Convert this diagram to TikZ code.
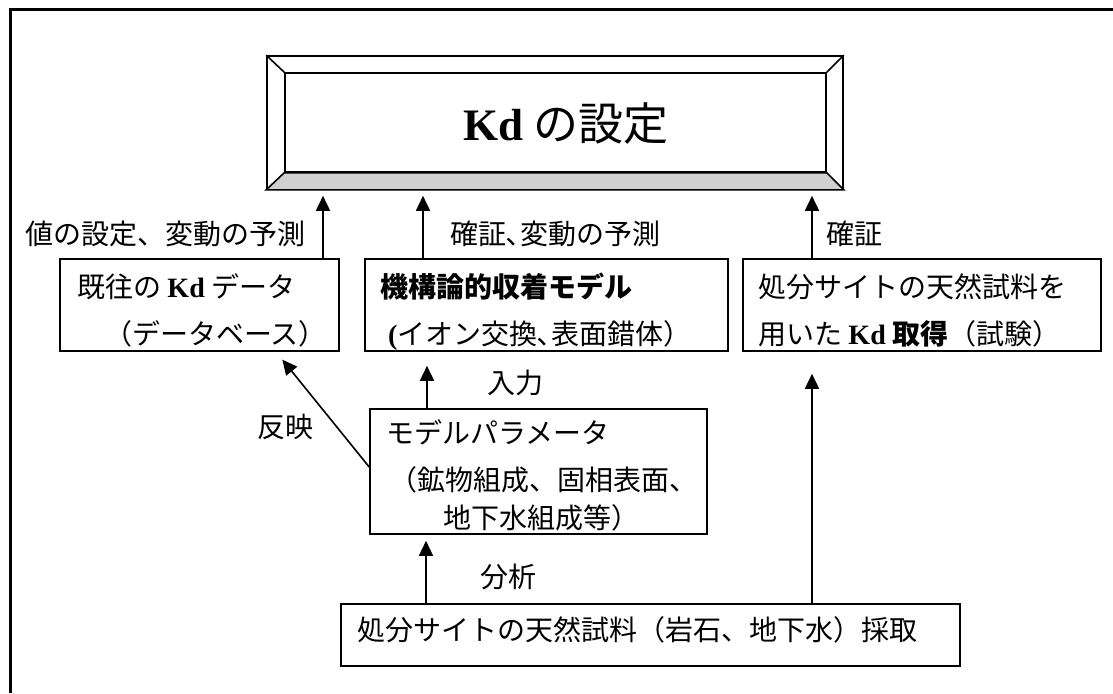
\documentclass[tikz,border=0pt]{standalone}
\usepackage{fontspec}
\setmainfont{Liberation Serif}
\newfontfamily\jp{Noto Sans CJK JP}
\usetikzlibrary{arrows.meta}
\definecolor{bev}{HTML}{D0D0D0}
\newcommand{\KD}{{\rmfamily\bfseries Kd}}
\begin{document}
\begin{tikzpicture}[x=1pt,y=-1pt,
  box/.style={draw, line width=1.6pt, inner sep=0pt},
  arr/.style={line width=1.6pt, -{Triangle[length=15pt,width=14pt]}},
  lbl/.style={font=\jp\fontsize{28}{34}\selectfont, inner sep=0pt, anchor=base west}]
\useasboundingbox (0,0) rectangle (1113,693);
% frame (top and left edges only)
\draw[line width=3pt] (10,693) -- (10,10) -- (1113,10);
% title bevel box
\node[box, minimum width=576pt, minimum height=133pt] (title) at (555,122.5) {};
\node[box, minimum width=541pt, minimum height=99pt] (titlein) at (555.5,122.5) {};
\filldraw[fill=bev, line width=1.6pt] (title.south west) -- (title.south east) -- (titlein.south east) -- (titlein.south west) -- cycle;
\draw[line width=1.6pt] (title.north west) -- (titlein.north west);
\draw[line width=1.6pt] (title.north east) -- (titlein.north east);
\node[anchor=base west, inner sep=0pt, font=\jp\fontsize{45}{50}\selectfont] (ttext) at (463,140) {{\rmfamily\bfseries Kd} の設定};
% boxes
\node[box, minimum width=279pt, minimum height=92pt] (A) at (199.5,305) {};
\node[box, minimum width=363pt, minimum height=92pt] (B) at (546.5,305) {};
\node[box, minimum width=358pt, minimum height=92pt] (C) at (922,305) {};
\node[box, minimum width=337pt, minimum height=125pt] (P) at (538.5,471.5) {};
\node[box, minimum width=619pt, minimum height=62pt] (S) at (650.5,635) {};
% box texts
\node[lbl] (a1) at (77,297) {既往の \KD{} データ};
\node[lbl] (a2) at (104,344) {（データベース）};
\node[lbl] (b1) at (380,297) {\bfseries 機構論的収着モデル};
\node[lbl] (b2) at (388,344) {{\rmfamily\bfseries (}イオン交換､表面錯体）};
\node[lbl] (c1) at (758,297) {処分サイトの天然試料を};
\node[lbl] (c2) at (758,344) {用いた \KD{} {\bfseries 取得}（試験）};
\node[lbl] (p1) at (386,443) {モデルパラメータ};
\node[lbl] (p2) at (389,490) {（鉱物組成、固相表面、};
\node[lbl] (p3) at (443,528) {地下水組成等）};
\node[lbl] (s1) at (357,640) {処分サイトの天然試料（岩石、地下水）採取};
% connector labels
\node[lbl] (l1) at (25,244) {値の設定、変動の予測};
\node[lbl] (l2) at (450,244) {確証､変動の予測};
\node[lbl] (l3) at (826,244) {確証};
\node[lbl] (l4) at (487,393) {入力};
\node[lbl] (l5) at (257,437) {反映};
\node[lbl] (l6) at (480,587) {分析};
% connectors
\coordinate (xa) at (323,0);
\coordinate (xb) at (423,0);
\coordinate (xc) at (812,0);
\coordinate (xp) at (427,0);
\coordinate (xs) at (426,0);
\coordinate (xd) at (276,0);
\draw[arr, shorten >=6pt] (xa |- A.north) -- (xa |- title.south);
\draw[arr, shorten >=6pt] (xb |- B.north) -- (xb |- title.south);
\draw[arr, shorten >=6pt] (xc |- C.north) -- (xc |- title.south);
\draw[arr, shorten >=14pt] (xp |- P.north) -- (xp |- B.south);
\draw[arr, shorten >=22pt] (xc |- S.north) -- (xc |- C.south);
\draw[arr, shorten >=6pt] (xs |- S.north) -- (xs |- P.south);
\draw[arr, shorten >=10pt] ([yshift=4.5pt]P.west) -- (xd |- A.south);
\end{tikzpicture}
\end{document}
